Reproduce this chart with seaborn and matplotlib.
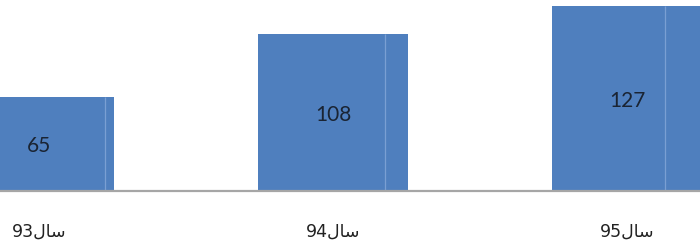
import numpy as np
import pandas as pd
import matplotlib
matplotlib.use("Agg")
import matplotlib.pyplot as plt
import seaborn as sns

# data
years = ["93", "94", "95"]
counts = [65, 108, 127]

# "سال" in presentation forms, laid out left-to-right since matplotlib does no bidi/shaping
word = "\uFEDD\uFE8E\uFEB3"
labels = [y + word for y in years]

df = pd.DataFrame({"year": labels, "count": counts})

sns.set_style("white")
plt.rcParams['font.family'] = ['DejaVu Sans']

fig = plt.figure(figsize=(7, 2.47), dpi=100)
ax = fig.add_axes([0, 0.2267, 1, 0.7733])

sns.barplot(data=df, x="year", y="count", color="#4f7fbe", saturation=1,
            width=0.51, linewidth=0, ax=ax)

# thin lighter stripe inside each bar
for i, v in enumerate(counts):
    xs = 0.224 + i * 0.952
    ax.plot([xs, xs], [0, v], color="#7a9fd3", lw=0.9, zorder=3,
            solid_capstyle="butt")

# value labels, centred in each bar (a touch low, like the original)
for i, v in enumerate(counts):
    ax.text(i, v / 2 - 1.5, str(v), ha="center", va="center", fontsize=15,
            color="#1a2433", family="Lato")

ax.set_xlim(-0.133, 2.248)
ax.set_ylim(0, 131.4)
ax.axhline(0, color="#a6a6a6", lw=1.6, zorder=4, clip_on=False)

for s in ax.spines.values():
    s.set_visible(False)
ax.set_yticks([])
ax.set_xlabel("")
ax.set_ylabel("")
ax.tick_params(axis="x", length=0, pad=23, labelsize=12.5, labelcolor="#222222")

fig.savefig("out.png", dpi=100)
